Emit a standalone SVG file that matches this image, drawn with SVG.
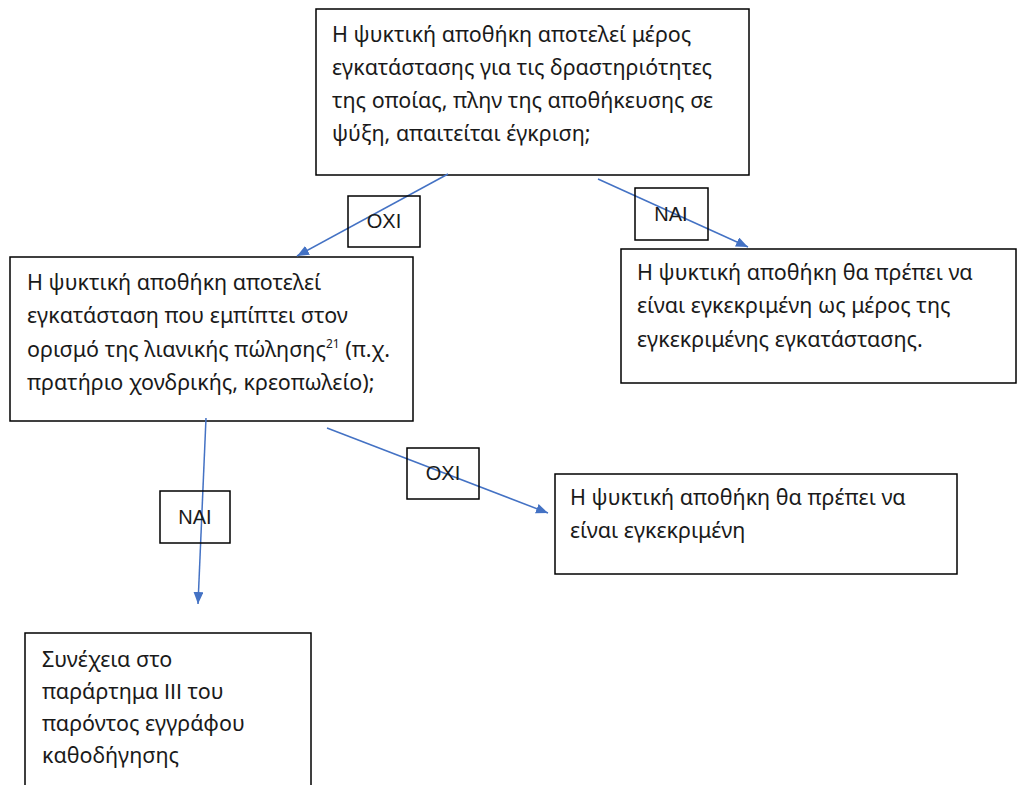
<svg xmlns="http://www.w3.org/2000/svg" width="1017" height="785" viewBox="0 0 1017 785">
<defs>
<style>
.box{fill:#fff;stroke:#000;stroke-width:1.5}
.lbl{fill:none;stroke:#000;stroke-width:1.5}
.t{font-family:"Noto Sans","DejaVu Sans",sans-serif;font-size:21.5px;fill:#1a1a1a}
.l{font-family:"Liberation Sans",Arial,sans-serif;font-size:20px;fill:#1a1a1a;text-anchor:middle}
.c{stroke:#4472C4;stroke-width:1.5;fill:none;marker-end:url(#ah)}
</style>
<marker id="ah" viewBox="0 0 12 10" refX="12" refY="5" markerWidth="12" markerHeight="10" markerUnits="userSpaceOnUse" orient="auto">
<path d="M0,0 L12,5 L0,10 Z" fill="#4472C4"/>
</marker>
</defs>
<rect width="1017" height="785" fill="#fff"/>
<g id="n1">
<rect class="box" x="316" y="9" width="433" height="166"/>
<text class="t" x="332" y="42">Η ψυκτική αποθήκη αποτελεί μέρος</text>
<text class="t" x="332" y="75">εγκατάστασης για τις δραστηριότητες</text>
<text class="t" x="332" y="108">της οποίας, πλην της αποθήκευσης σε</text>
<text class="t" x="332" y="141">ψύξη, απαιτείται έγκριση;</text>
</g>
<g id="n2">
<rect class="box" x="10" y="257" width="403" height="164"/>
<text class="t" x="27" y="290">Η ψυκτική αποθήκη αποτελεί</text>
<text class="t" x="27" y="323">εγκατάσταση που εμπίπτει στον</text>
<text class="t" x="27" y="357">ορισμό της λιανικής πώλησης<tspan font-size="12" dy="-9">21</tspan><tspan dy="9"> (π.χ.</tspan></text>
<text class="t" x="27" y="390">πρατήριο χονδρικής, κρεοπωλείο);</text>
</g>
<g id="n3">
<rect class="box" x="621" y="249" width="395" height="134"/>
<text class="t" x="637" y="280">Η ψυκτική αποθήκη θα πρέπει να</text>
<text class="t" x="637" y="313">είναι εγκεκριμένη ως μέρος της</text>
<text class="t" x="637" y="347">εγκεκριμένης εγκατάστασης.</text>
</g>
<g id="n4">
<rect class="box" x="555" y="474" width="402" height="100"/>
<text class="t" x="570" y="505">Η ψυκτική αποθήκη θα πρέπει να</text>
<text class="t" x="570" y="538">είναι εγκεκριμένη</text>
</g>
<g id="n5">
<rect class="box" x="25" y="633" width="286" height="170"/>
<text class="t" x="42" y="667">Συνέχεια στο</text>
<text class="t" x="42" y="699">παράρτημα <tspan font-family="'Liberation Sans',Arial,sans-serif">III</tspan> του</text>
<text class="t" x="42" y="731">παρόντος εγγράφου</text>
<text class="t" x="42" y="763">καθοδήγησης</text>
</g>
<g id="connectors">
<line class="c" x1="448" y1="174" x2="297" y2="256"/>
<line class="c" x1="598" y1="179" x2="748" y2="247"/>
<line class="c" x1="206" y1="418" x2="198" y2="604"/>
<line class="c" x1="327" y1="428" x2="548" y2="513"/>
</g>
<g id="labels">
<g id="lbl-oxi1"><rect class="lbl" x="348" y="196" width="72" height="51"/><text class="l" x="384" y="228">ΟΧΙ</text></g>
<g id="lbl-nai1"><rect class="lbl" x="635" y="188" width="73" height="52"/><text class="l" x="671" y="221">ΝΑΙ</text></g>
<g id="lbl-nai2"><rect class="lbl" x="160" y="491" width="70" height="52"/><text class="l" x="195" y="524">ΝΑΙ</text></g>
<g id="lbl-oxi2"><rect class="lbl" x="407" y="448" width="72" height="51"/><text class="l" x="443" y="480">ΟΧΙ</text></g>
</g>
</svg>
